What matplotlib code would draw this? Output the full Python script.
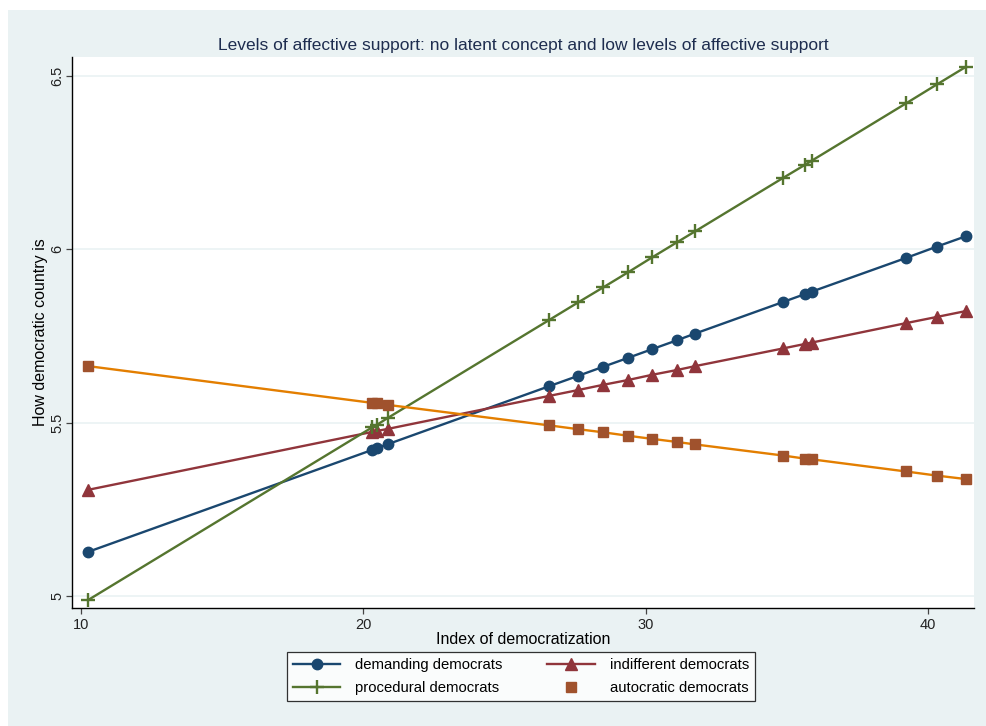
import matplotlib
matplotlib.use("Agg")
import matplotlib.pyplot as plt
from matplotlib.patches import Rectangle

plt.rcParams['font.family'] = ['Liberation Sans', 'DejaVu Sans']

# predicted values along the democratization index
democ_index = [10.26, 20.31, 20.49, 20.88, 26.58, 27.61, 28.49, 29.38, 30.23,
               31.12, 31.75, 34.86, 35.64, 35.88, 39.21, 40.31, 41.34]

demanding = [5.127, 5.421, 5.427, 5.438, 5.605, 5.635, 5.661, 5.687, 5.712,
             5.738, 5.757, 5.848, 5.871, 5.878, 5.975, 6.008, 6.038]
indifferent = [5.306, 5.473, 5.476, 5.482, 5.577, 5.594, 5.609, 5.623, 5.638,
               5.652, 5.663, 5.714, 5.727, 5.731, 5.787, 5.805, 5.822]
procedural = [4.988, 5.486, 5.494, 5.514, 5.796, 5.847, 5.890, 5.934, 5.977,
              6.021, 6.052, 6.206, 6.244, 6.256, 6.421, 6.476, 6.527]
autocratic = [5.663, 5.557, 5.556, 5.551, 5.492, 5.481, 5.472, 5.462, 5.453,
              5.444, 5.437, 5.405, 5.396, 5.394, 5.359, 5.347, 5.337]

x_ticks = [10, 20, 30, 40]
y_ticks = [5, 5.5, 6, 6.5]
y_tick_labels = ['5', '5.5', '6', '6.5']

BG = '#EAF2F3'
NAVY = '#1A476F'
MAROON = '#90353B'
GREEN = '#55752F'
ORANGE = '#E37E00'
SIENNA = '#A0522D'

W, H = 987, 726
fig = plt.figure(figsize=(W / 100, H / 100), dpi=100, facecolor='white')
fig.patches.append(Rectangle((8 / W, 0), 1 - 8 / W, 1 - 10 / H,
                             transform=fig.transFigure, facecolor=BG,
                             edgecolor='none', zorder=-10))

ax = fig.add_axes([72 / W, 1 - 608 / H, (974 - 72) / W, (608 - 57) / H])
ax.set_facecolor('white')

ax.plot(democ_index, demanding, '-o', color=NAVY, lw=1.7, ms=7.5,
        label='demanding democrats', zorder=3)
ax.plot(democ_index, indifferent, '-^', color=MAROON, lw=1.7, ms=8,
        label='indifferent democrats', zorder=3)
ax.plot(democ_index, procedural, '-+', color=GREEN, lw=1.7, ms=9.5, mew=1.7,
        label='procedural democrats', zorder=3)
ax.plot(democ_index, autocratic, '-', color=ORANGE, lw=1.7, zorder=3)
ax.plot(democ_index, autocratic, 's', color=SIENNA, ms=7.5,
        label='autocratic democrats', zorder=4)

ax.set_xlim(9.69, 41.62)
ax.set_ylim(4.965, 6.555)
ax.set_xticks(x_ticks)
ax.set_yticks(y_ticks)
ax.set_yticklabels(y_tick_labels, rotation=90, va='center')
ax.grid(axis='y', color=BG, lw=1.2, zorder=0)
ax.set_axisbelow(True)

for side in ['top', 'right']:
    ax.spines[side].set_visible(False)
for side in ['left', 'bottom']:
    ax.spines[side].set_color('black')
    ax.spines[side].set_linewidth(1.0)

ax.tick_params(axis='both', length=4, width=0.9, color='#444444',
               labelsize=10.5, labelcolor='#222222', pad=3)
ax.tick_params(axis='y', pad=1.5)

ax.set_xlabel('Index of democratization', fontsize=11.5, labelpad=0)
ax.set_ylabel('How democratic country is', fontsize=11.5, labelpad=2)
ax.set_title('Levels of affective support: no latent concept and low levels of affective support',
             fontsize=12.5, color='#1E2D4F', pad=5)

# legend handles in the order they appear row by row
h, l = ax.get_legend_handles_labels()
order = [0, 2, 1, 3]
leg = fig.legend([h[i] for i in order], [l[i] for i in order],
                 ncol=2, loc='lower left', mode='expand', borderaxespad=0,
                 bbox_to_anchor=(287 / W, 1 - 701 / H, (755 - 287) / W, (701 - 652) / H),
                 fontsize=10.7, frameon=True, fancybox=False, handlelength=3.2,
                 handletextpad=1.0, borderpad=0.4, labelspacing=0.6,
                 columnspacing=2.0)
leg.get_frame().set_edgecolor('black')
leg.get_frame().set_linewidth(0.9)

fig.savefig('out.png', dpi=100, facecolor=fig.get_facecolor())
